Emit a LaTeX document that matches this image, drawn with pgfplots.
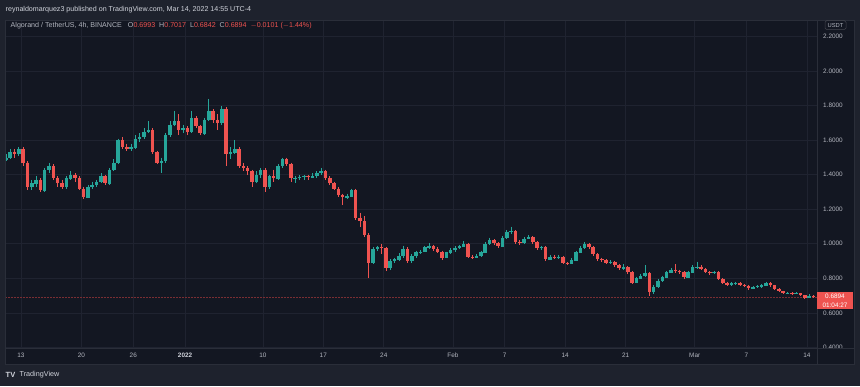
\documentclass[border=0pt]{standalone}
\usepackage{fontspec}
\setmainfont{Liberation Sans}
\usepackage{pgfplots}
\usepackage{pgfplotstable}
\pgfplotsset{compat=1.18}
\definecolor{bgout}{HTML}{1E222D}
\definecolor{bgin}{HTML}{131722}
\definecolor{gridc}{HTML}{1F2330}
\definecolor{sepc}{HTML}{2A2E39}
\definecolor{upc}{HTML}{26A69A}
\definecolor{dnc}{HTML}{EF5350}
\definecolor{txt}{HTML}{B2B5BE}
\definecolor{txtw}{HTML}{D1D4DC}
\definecolor{dashc}{HTML}{7A2E33}

\pgfplotstableread{
d o h l c
-1.75 1.49 1.52 1.48 1.50
-1.25 1.50 1.55 1.49 1.53
-0.75 1.53 1.55 1.50 1.52
-0.25 1.52 1.56 1.51 1.55
0.25 1.55 1.56 1.45 1.47
0.75 1.47 1.48 1.31 1.33
1.25 1.33 1.37 1.31 1.35
1.75 1.35 1.39 1.33 1.37
2.25 1.37 1.38 1.30 1.31
2.75 1.31 1.44 1.30 1.43
3.25 1.43 1.47 1.41 1.45
3.75 1.45 1.46 1.37 1.38
4.25 1.38 1.39 1.33 1.35
4.75 1.35 1.37 1.32 1.33
5.25 1.33 1.39 1.32 1.38
5.75 1.38 1.42 1.37 1.40
6.25 1.40 1.41 1.36 1.38
6.75 1.38 1.39 1.31 1.32
7.25 1.32 1.33 1.26 1.27
7.75 1.27 1.34 1.27 1.33
8.25 1.33 1.36 1.32 1.34
8.75 1.34 1.37 1.33 1.36
9.25 1.36 1.41 1.35 1.39
9.75 1.39 1.40 1.34 1.35
10.25 1.35 1.44 1.34 1.43
10.75 1.43 1.49 1.42 1.47
11.25 1.47 1.61 1.46 1.60
11.75 1.60 1.62 1.55 1.56
12.25 1.56 1.58 1.54 1.55
12.75 1.55 1.58 1.54 1.56
13.25 1.56 1.63 1.55 1.61
13.75 1.61 1.64 1.59 1.62
14.25 1.62 1.67 1.61 1.65
14.75 1.65 1.71 1.64 1.66
15.25 1.66 1.67 1.52 1.53
15.75 1.53 1.54 1.46 1.47
16.25 1.47 1.50 1.41 1.48
16.75 1.48 1.64 1.47 1.63
17.25 1.63 1.71 1.62 1.69
17.75 1.69 1.77 1.68 1.71
18.25 1.71 1.75 1.63 1.66
18.75 1.66 1.69 1.64 1.67
19.25 1.67 1.68 1.63 1.65
19.75 1.65 1.77 1.64 1.73
20.25 1.73 1.74 1.67 1.68
20.75 1.68 1.69 1.63 1.64
21.25 1.64 1.73 1.63 1.72
21.75 1.72 1.84 1.71 1.77
22.25 1.77 1.78 1.70 1.72
22.75 1.72 1.75 1.66 1.70
23.25 1.70 1.80 1.69 1.78
23.75 1.78 1.79 1.45 1.52
24.25 1.52 1.56 1.49 1.53
24.75 1.53 1.60 1.52 1.55
25.25 1.55 1.56 1.44 1.45
25.75 1.45 1.47 1.42 1.44
26.25 1.44 1.45 1.40 1.42
26.75 1.42 1.43 1.33 1.36
27.25 1.36 1.42 1.35 1.40
27.75 1.40 1.44 1.38 1.43
28.25 1.43 1.44 1.30 1.33
28.75 1.33 1.40 1.32 1.39
29.25 1.39 1.43 1.36 1.38
29.75 1.38 1.46 1.37 1.45
30.25 1.45 1.50 1.44 1.49
30.75 1.49 1.50 1.45 1.46
31.25 1.46 1.47 1.36 1.38
31.75 1.38 1.39 1.35 1.383
32.25 1.383 1.40 1.37 1.388
32.75 1.388 1.40 1.37 1.393
33.25 1.393 1.40 1.37 1.386
33.75 1.386 1.41 1.38 1.392
34.25 1.392 1.42 1.38 1.41
34.75 1.41 1.44 1.40 1.42
35.25 1.42 1.43 1.37 1.38
35.75 1.38 1.39 1.34 1.35
36.25 1.35 1.36 1.31 1.32
36.75 1.32 1.33 1.27 1.28
37.25 1.28 1.29 1.225 1.27
37.75 1.27 1.29 1.26 1.275
38.25 1.275 1.32 1.27 1.31
38.75 1.31 1.32 1.14 1.15
39.25 1.15 1.18 1.10 1.13
39.75 1.13 1.16 1.04 1.05
40.25 1.05 1.06 0.80 0.89
40.75 0.89 0.98 0.88 0.97
41.25 0.97 0.99 0.96 0.98
41.75 0.98 1.00 0.94 0.975
42.25 0.975 0.98 0.84 0.86
42.75 0.86 0.91 0.85 0.90
43.25 0.90 0.92 0.89 0.91
43.75 0.91 0.945 0.90 0.93
44.25 0.93 0.99 0.92 0.97
44.75 0.97 0.98 0.89 0.90
45.25 0.90 0.94 0.89 0.93
45.75 0.93 0.96 0.92 0.95
46.25 0.95 0.965 0.94 0.955
46.75 0.955 0.99 0.95 0.98
47.25 0.98 1.005 0.97 0.99
47.75 0.99 0.995 0.96 0.97
48.25 0.97 0.98 0.945 0.955
48.75 0.955 0.96 0.905 0.92
49.25 0.92 0.955 0.915 0.95
49.75 0.95 0.975 0.94 0.965
50.25 0.965 0.985 0.955 0.975
50.75 0.975 0.995 0.97 0.985
51.25 0.985 1.015 0.98 1.00
51.75 1.00 1.005 0.915 0.925
52.25 0.925 0.935 0.91 0.92
52.75 0.92 0.94 0.915 0.93
53.25 0.93 0.96 0.925 0.95
53.75 0.95 1.01 0.945 1.00
54.25 1.00 1.035 0.995 1.02
54.75 1.02 1.025 0.995 1.005
55.25 1.005 1.01 0.975 0.985
55.75 0.985 1.045 0.98 1.035
56.25 1.035 1.08 1.03 1.07
56.75 1.07 1.10 1.055 1.075
57.25 1.075 1.08 1.00 1.01
57.75 1.01 1.02 0.995 1.005
58.25 1.005 1.04 1.00 1.03
58.75 1.03 1.05 1.025 1.04
59.25 1.04 1.045 1.00 1.01
59.75 1.01 1.015 0.965 0.975
60.25 0.975 0.99 0.965 0.98
60.75 0.98 0.985 0.90 0.91
61.25 0.91 0.935 0.905 0.925
61.75 0.925 0.935 0.91 0.92
62.25 0.92 0.935 0.91 0.925
62.75 0.925 0.93 0.88 0.89
63.25 0.89 0.895 0.878 0.885
63.75 0.885 0.915 0.88 0.905
64.25 0.905 0.96 0.90 0.95
64.75 0.95 0.985 0.945 0.975
65.25 0.975 1.01 0.97 1.00
65.75 1.00 1.005 0.97 0.98
66.25 0.98 0.985 0.93 0.94
66.75 0.94 0.945 0.90 0.91
67.25 0.91 0.92 0.895 0.905
67.75 0.905 0.91 0.88 0.89
68.25 0.89 0.905 0.882 0.896
68.75 0.896 0.90 0.865 0.875
69.25 0.875 0.88 0.85 0.858
69.75 0.858 0.88 0.85 0.865
70.25 0.865 0.87 0.825 0.835
70.75 0.835 0.84 0.765 0.775
71.25 0.775 0.81 0.77 0.80
71.75 0.80 0.825 0.795 0.815
72.25 0.815 0.877 0.81 0.83
72.75 0.83 0.835 0.695 0.72
73.25 0.72 0.76 0.71 0.75
73.75 0.75 0.795 0.745 0.785
74.25 0.785 0.815 0.78 0.805
74.75 0.805 0.845 0.80 0.835
75.25 0.835 0.86 0.83 0.85
75.75 0.85 0.883 0.83 0.84
76.25 0.84 0.85 0.825 0.835
76.75 0.835 0.84 0.795 0.805
77.25 0.805 0.845 0.80 0.835
77.75 0.835 0.875 0.83 0.865
78.25 0.865 0.896 0.855 0.868
78.75 0.868 0.875 0.848 0.855
79.25 0.855 0.86 0.828 0.835
79.75 0.835 0.842 0.82 0.83
80.25 0.83 0.845 0.825 0.835
80.75 0.835 0.84 0.79 0.795
81.25 0.795 0.80 0.768 0.775
81.75 0.775 0.78 0.755 0.762
82.25 0.762 0.778 0.756 0.77
82.75 0.77 0.78 0.762 0.773
83.25 0.773 0.776 0.755 0.762
83.75 0.762 0.768 0.75 0.758
84.25 0.758 0.762 0.735 0.742
84.75 0.742 0.756 0.737 0.75
85.25 0.75 0.76 0.744 0.753
85.75 0.753 0.768 0.746 0.76
86.25 0.76 0.781 0.755 0.772
86.75 0.772 0.776 0.752 0.76
87.25 0.76 0.764 0.732 0.738
87.75 0.738 0.742 0.718 0.725
88.25 0.725 0.728 0.707 0.713
88.75 0.713 0.722 0.708 0.717
89.25 0.717 0.72 0.706 0.712
89.75 0.712 0.72 0.707 0.715
90.25 0.715 0.717 0.697 0.702
90.75 0.702 0.705 0.679 0.686
91.25 0.686 0.708 0.683 0.6993
91.75 0.6993 0.7017 0.6842 0.6894
}\candles

\begin{document}
\begin{tikzpicture}[x=1pt,y=1pt]
\useasboundingbox (0,0) rectangle (860,386);
\fill[bgout] (0,0) rectangle (860,386);
\fill[bgin] (5,22) rectangle (854,366);
\begin{axis}[
  at={(5pt,38pt)}, anchor=south west,
  scale only axis, width=812pt, height=328pt,
  xmin=-1.85, xmax=92.16, ymin=0.396, ymax=2.297,
  axis line style={draw=none},
  major tick length=0pt,
  xmajorgrids, ymajorgrids,
  grid style={gridc, line width=0.6pt},
  xtick={0,7,13,19,28,35,42,50,56,63,70,78,84,91},
  xticklabels={13,20,26,{\bfseries\color{txtw}2022},10,17,24,Feb,7,14,21,Mar,7,14},
  ytick={0.4,0.6,0.8,1.0,1.2,1.4,1.6,1.8,2.0,2.2},
  yticklabel pos=right,
  /pgf/number format/assume math mode=true,
  yticklabel style={/pgf/number format/.cd, fixed, fixed zerofill, precision=4, /tikz/.cd,
    font=\fontsize{6.4}{7}\selectfont, color=txt, anchor=center, xshift=16pt},
  xticklabel style={font=\fontsize{6.4}{7}\selectfont, color=txt, anchor=center, yshift=-7.5pt},
  clip=true,
  candle/.style={draw=none, mark=none, error bars/.cd, y dir=minus, y explicit, error mark=none, /pgfplots/.cd},
]
% dashed current price line
\addplot[dashc, dash pattern=on 1.5pt off 1.5pt, line width=0.7pt] coordinates {(-1.85,0.6894) (92.16,0.6894)};
% wicks
\addplot[candle, error bars/error bar style={draw=upc, line width=0.7pt}]
  table[x=d, y expr={\thisrow{c}<\thisrow{o} ? nan : \thisrow{h}}, y error minus expr={\thisrow{h}-\thisrow{l}}]{\candles};
\addplot[candle, error bars/error bar style={draw=dnc, line width=0.7pt}]
  table[x=d, y expr={\thisrow{c}<\thisrow{o} ? \thisrow{h} : nan}, y error minus expr={\thisrow{h}-\thisrow{l}}]{\candles};
% bodies
\addplot[candle, error bars/error bar style={draw=upc, line width=3.5pt}]
  table[x=d, y expr={\thisrow{c}<\thisrow{o} ? nan : \thisrow{c}}, y error minus expr={\thisrow{c}-\thisrow{o}+0.002}]{\candles};
\addplot[candle, error bars/error bar style={draw=dnc, line width=3.5pt}]
  table[x=d, y expr={\thisrow{c}<\thisrow{o} ? \thisrow{o} : nan}, y error minus expr={\thisrow{o}-\thisrow{c}}]{\candles};
\end{axis}
% separators
\draw[sepc, line width=0.7pt] (5,38) -- (854,38);
\draw[sepc, line width=0.7pt] (817,22) -- (817,366);
\draw[sepc, line width=0.7pt] (5,22) rectangle (854,366);
% price label
\fill[dnc] (817,76.7) rectangle (853,94.3);
\node[font=\fontsize{6.4}{7}\selectfont, text=white, inner sep=0pt] at (835,89.8) {0.6894};
\node[font=\fontsize{6.4}{7}\selectfont, text=white, inner sep=0pt] at (835,81) {01:04:27};
% USDT
\draw[sepc!70!gray, rounded corners=1.5pt, line width=0.5pt] (825,356.5) rectangle (846,365.3);
\node[font=\fontsize{5.8}{6}\selectfont, text=txt, inner sep=0pt] at (835.5,360.9) {USDT};
% header
\node[anchor=west, font=\fontsize{7.1}{8}\selectfont, text=txtw, inner sep=0pt] at (5.5,376.7)
  {reynaldomarquez3 published on TradingView.com, Mar 14, 2022 14:55 UTC-4};
\node[anchor=west, font=\fontsize{7.1}{8}\selectfont, text=txt, inner sep=0pt] at (10.5,360.3)
  {Algorand / TetherUS, 4h, BINANCE\hspace{6pt}O{\color{dnc}0.6993}\hspace{4pt}H{\color{dnc}0.7017}\hspace{4pt}L{\color{dnc}0.6842}\hspace{4pt}C{\color{dnc}0.6894}\hspace{4pt}{\color{dnc}\mbox{$-$}0.0101 (\mbox{$-$}1.44\%)}};
% footer logo
\node[anchor=west, font=\fontsize{7.5}{8}\selectfont\bfseries, text=txtw, inner sep=0pt] at (5.5,11) {TV};
\node[anchor=west, font=\fontsize{7.2}{8}\selectfont, text=txtw, inner sep=0pt] at (19.5,11) {TradingView};
\end{tikzpicture}
\end{document}
